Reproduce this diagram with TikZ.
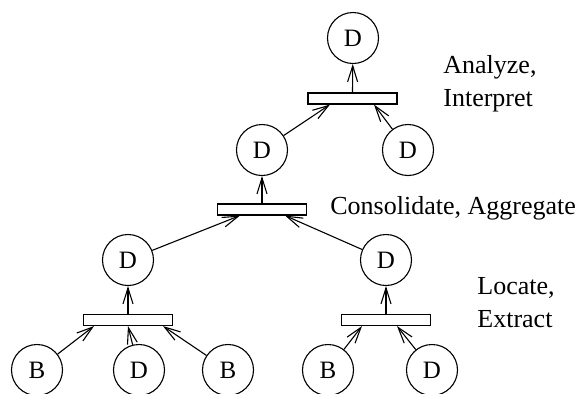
\documentclass[tikz,border=0pt]{standalone}
\usepackage{fontspec}
\setmainfont{Liberation Serif}
\usetikzlibrary{arrows.meta,calc}
\begin{document}
\begin{tikzpicture}[x=0.5pt,y=-0.5pt,
  st/.style={draw,circle,line width=0.55pt,minimum size=25.5pt,inner sep=0pt,font=\fontsize{12.5}{14}\selectfont},
  bar/.style={draw,rectangle,line width=0.55pt,minimum width=44.5pt,minimum height=5.5pt,inner sep=0pt},
  arr/.style={line width=0.55pt,-{Straight Barb[length=8pt,width=5pt]}},
  lab/.style={anchor=base west,inner sep=0pt,font=\fontsize{13}{15}\selectfont}]
\useasboundingbox (0,0) rectangle (585,393);
% level 0
\node[st] (top) at (353,38) {D};
\node[bar] (b1) at (352.5,98.5) {};
% level 1
\node[st] (m1) at (262,150) {D};
\node[st] (m2) at (408,150) {D};
\node[bar] (b2) at (262,209.5) {};
% level 2
\node[st] (l1) at (128,260) {D};
\node[st] (l2) at (386,260) {D};
\node[bar] (b3) at (128,320) {};
\node[bar] (b4) at (386,320) {};
% leaves
\node[st] (x1) at (37,370) {B};
\node[st] (x2) at (139,370) {D};
\node[st] (x3) at (228,370) {B};
\node[st] (x4) at (328,370) {B};
\node[st] (x5) at (432,370) {D};
% connectors
\draw[arr] (b1.north) -- (top);
\draw[arr] (m1) -- ($(b1.south)+(-22.5,0)$);
\draw[arr] (m2) -- ($(b1.south)+(21.5,0)$);
\draw[arr] (b2.north) -- (m1);
\draw[arr] (l1) -- ($(b2.south)+(-22,0)$);
\draw[arr] (l2) -- ($(b2.south)+(23,0)$);
\draw[arr] (b3.north) -- (l1);
\draw[arr] (b4.north) -- (l2);
\draw[arr] (x1) -- ($(b3.south)+(-34,0)$);
\draw[arr] (x2) -- ($(b3.south)+(0,0)$);
\draw[arr] (x3) -- ($(b3.south)+(35,0)$);
\draw[arr] (x4) -- ($(b4.south)+(-24,0)$);
\draw[arr] (x5) -- ($(b4.south)+(11,0)$);
% labels
\node[lab] (t1) at (443,73) {Analyze,};
\node[lab] (t2) at (443,106) {Interpret};
\node[lab] (t3) at (330,214) {Consolidate, Aggregate};
\node[lab] (t4) at (477,294) {Locate,};
\node[lab] (t5) at (477,327) {Extract};
\end{tikzpicture}
\end{document}
